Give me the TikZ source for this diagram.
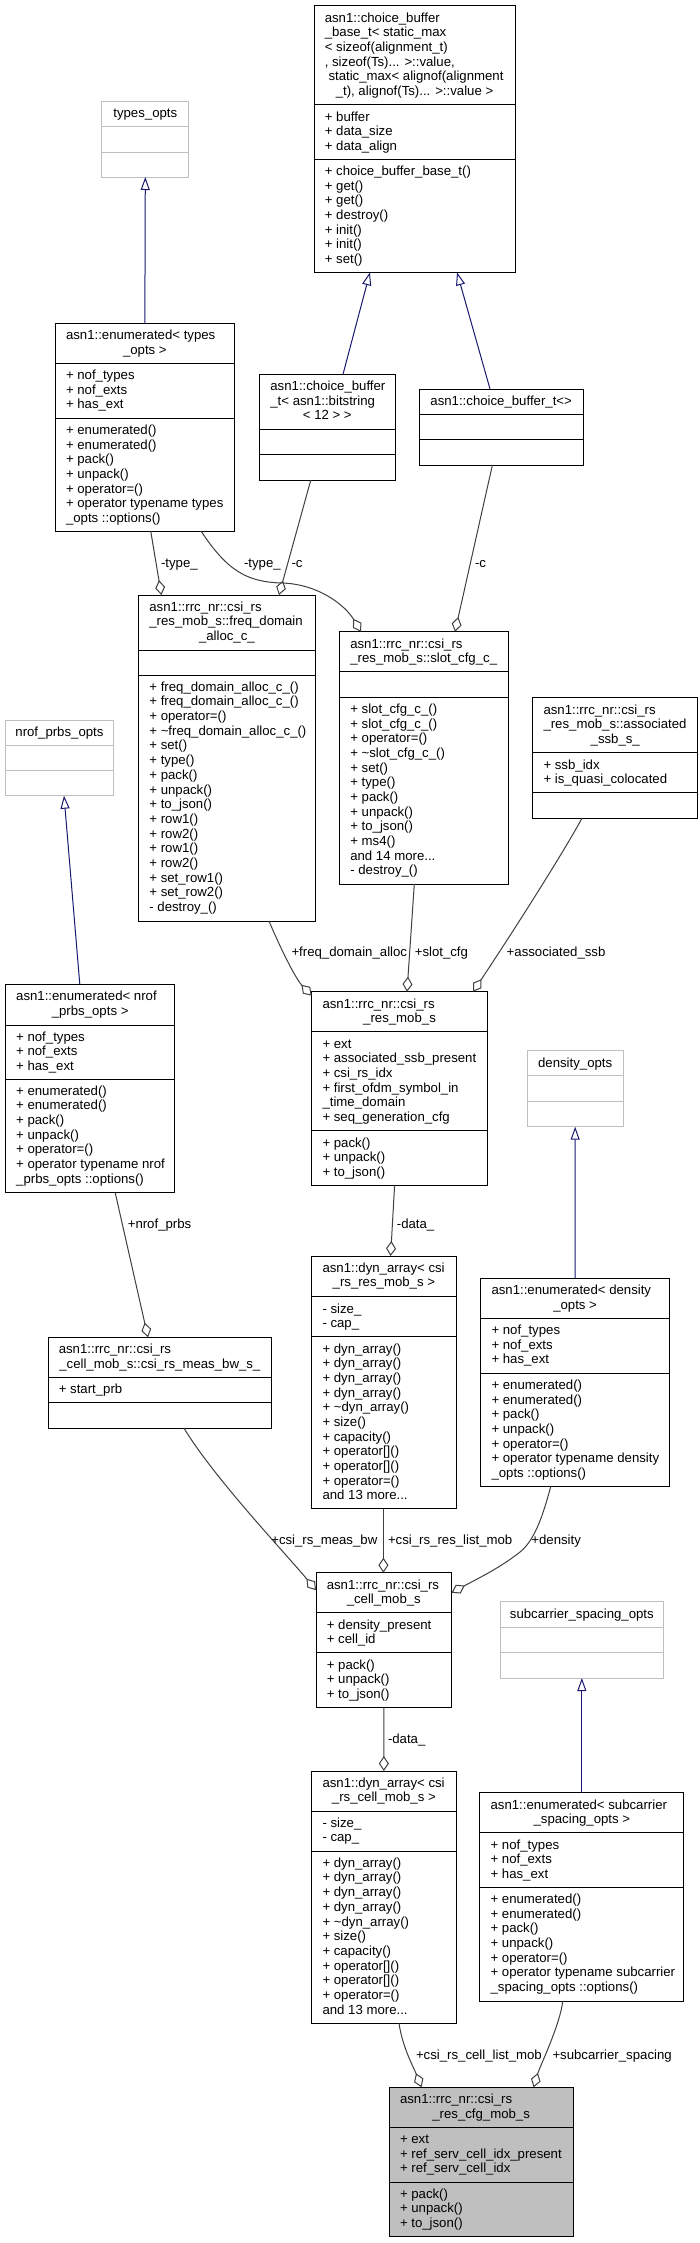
\documentclass[tikz,border=0pt]{standalone}
\usepackage{fontspec}
\setmainfont{Liberation Sans}
\usetikzlibrary{arrows.meta}
\definecolor{edgegrey}{HTML}{404040}
\definecolor{inhblue}{HTML}{191970}
\definecolor{optgrey}{HTML}{BFBFBF}
\newcommand\umlfont{\fontsize{13.2}{14.67}\selectfont}
% box: name, x1, y1, x2, y2, sep1, sep2, border colour, fill
\newcommand\cls[9]{%
  \node[draw=#8, fill=#9, line width=1pt, inner sep=0pt, outer sep=0pt,
    minimum width={(#4-#2)*1pt}, minimum height={(#5-#3)*1pt}, anchor=north west] (#1) at (#2,#3) {};
  \draw[#8, line width=1pt] (#2,#6) -- (#4,#6);
  \draw[#8, line width=1pt] (#2,#7) -- (#4,#7);}
% left-aligned section text: name, x1, section top, lines
\newcommand\sect[4]{\node[txt] (#1) at ({#2+10.8},{#3+5.8}) {\rule{0pt}{10.5pt}#4};}
% centred title line: name, x1, x2, top, line index, text
\newcommand\ctl[6]{\node[ctr] (#1) at ({(#2+#3)/2},{#4+16.3+#5*14.67}) {#6};}
\tikzset{
  txt/.style={font=\umlfont, inner sep=0pt, outer sep=0pt, anchor=north west, align=left},
  ctr/.style={font=\umlfont, inner sep=0pt, outer sep=0pt, anchor=base},
  lab/.style={font=\umlfont, inner sep=0pt, outer sep=0pt, anchor=base west},
  inh/.style={draw=inhblue, line width=1pt, -{Triangle[open, length=13pt, width=9pt]}},
  use/.style={draw=edgegrey, line width=1pt, -{Diamond[open, length=15pt, width=10pt]}}
}
\begin{document}
\begin{tikzpicture}[x=1pt, y=-1pt]
\fill[white] (0,0) rectangle (700,2243);
\useasboundingbox (0,0) rectangle (700,2243);

% ---------- boxes ----------
\cls{cbBase}{314}{5.7}{515}{272.3}{104.7}{159.3}{black}{white}
\cls{typesOpts}{101.8}{101}{188.8}{177}{126.3}{152}{optgrey}{white}
\cls{enumT}{55.2}{323.3}{234.5}{531}{363.3}{418.3}{black}{white}
\cls{cbBit}{259.6}{374.3}{395}{480}{429}{454.7}{black}{white}
\cls{cbT}{419.3}{389}{583}{465}{414.7}{439.7}{black}{white}
\cls{freq}{138.6}{595}{315.2}{921}{650}{675}{black}{white}
\cls{slot}{339.5}{631.7}{508}{884}{671.7}{697.3}{black}{white}
\cls{nrofOpts}{5.4}{720}{113.5}{795.7}{745.3}{770.3}{optgrey}{white}
\cls{assoc}{532.7}{697.7}{697.8}{818.3}{752.7}{792.7}{black}{white}
\cls{enumN}{5.4}{984.3}{174.9}{1192.7}{1025}{1079}{black}{white}
\cls{resMob}{311.7}{991.7}{487.4}{1185.3}{1031.7}{1130.7}{black}{white}
\cls{densOpts}{527}{1050.7}{623.3}{1126.7}{1075.7}{1101.3}{optgrey}{white}
\cls{dynRes}{311.7}{1256}{456}{1508.7}{1296.7}{1336.7}{black}{white}
\cls{enumD}{480.7}{1278.3}{669.5}{1486.7}{1318.3}{1373.3}{black}{white}
\cls{measBw}{48}{1337.3}{271.7}{1428}{1377.3}{1402.7}{black}{white}
\cls{cellMob}{316}{1572.7}{451.6}{1707.3}{1612.7}{1652.7}{black}{white}
\cls{subOpts}{500}{1601.7}{663.7}{1678}{1627.3}{1652.7}{optgrey}{white}
\cls{dynCell}{311.7}{1771}{456}{2023.3}{1811}{1851}{black}{white}
\cls{enumS}{479.8}{1792.7}{683.9}{2001}{1832.7}{1887.3}{black}{white}
\cls{cfgMob}{389.2}{2087.3}{573.1}{2236.7}{2127.3}{2182}{black}{optgrey}

% ---------- texts ----------
\sect{cbBaseT}{314}{5.7}{asn1::choice\_buffer\\\_base\_t< static\_max\\< sizeof(alignment\_t)\\, sizeof(Ts)... >::value,\\\hspace*{3.7pt}static\_max< alignof(alignment}
\ctl{cbBaseC}{314}{515}{5.7}{5}{\_t), alignof(Ts)... >::value >}
\sect{cbBaseA}{314}{104.7}{+ buffer\\+ data\_size\\+ data\_align}
\sect{cbBaseM}{314}{159.3}{+ choice\_buffer\_base\_t()\\+ get()\\+ get()\\+ destroy()\\+ init()\\+ init()\\+ set()}

\ctl{typesOptsT}{101.8}{188.8}{101}{0}{types\_opts}

\sect{enumTT}{55.2}{323.3}{asn1::enumerated< types}
\ctl{enumTC}{55.2}{234.5}{323.3}{1}{\_opts >}
\sect{enumTA}{55.2}{363.3}{+ nof\_types\\+ nof\_exts\\+ has\_ext}
\sect{enumTM}{55.2}{418.3}{+ enumerated()\\+ enumerated()\\+ pack()\\+ unpack()\\+ operator=()\\+ operator typename types\\\_opts ::options()}

\sect{cbBitT}{259.6}{374.3}{asn1::choice\_buffer\\\_t< asn1::bitstring}
\ctl{cbBitC}{259.6}{395}{374.3}{2}{< 12 > >}

\ctl{cbTT}{419.3}{583}{389}{0}{asn1::choice\_buffer\_t<>}

\sect{freqT}{138.6}{595}{asn1::rrc\_nr::csi\_rs\\\_res\_mob\_s::freq\_domain}
\ctl{freqC}{138.6}{315.2}{595}{2}{\_alloc\_c\_}
\sect{freqM}{138.6}{675}{+ freq\_domain\_alloc\_c\_()\\+ freq\_domain\_alloc\_c\_()\\+ operator=()\\+ \textasciitilde freq\_domain\_alloc\_c\_()\\+ set()\\+ type()\\+ pack()\\+ unpack()\\+ to\_json()\\+ row1()\\+ row2()\\+ row1()\\+ row2()\\+ set\_row1()\\+ set\_row2()\\- destroy\_()}

\sect{slotT}{339.5}{631.7}{asn1::rrc\_nr::csi\_rs}
\ctl{slotC}{339.5}{508}{631.7}{1}{\_res\_mob\_s::slot\_cfg\_c\_}
\sect{slotM}{339.5}{697.3}{+ slot\_cfg\_c\_()\\+ slot\_cfg\_c\_()\\+ operator=()\\+ \textasciitilde slot\_cfg\_c\_()\\+ set()\\+ type()\\+ pack()\\+ unpack()\\+ to\_json()\\+ ms4()\\and 14 more...\\- destroy\_()}

\ctl{nrofOptsT}{5.4}{113.5}{720}{0}{nrof\_prbs\_opts}

\sect{assocT}{532.7}{697.7}{asn1::rrc\_nr::csi\_rs\\\_res\_mob\_s::associated}
\ctl{assocC}{532.7}{697.8}{697.7}{2}{\_ssb\_s\_}
\sect{assocA}{532.7}{752.7}{+ ssb\_idx\\+ is\_quasi\_colocated}

\sect{enumNT}{5.4}{984.3}{asn1::enumerated< nrof}
\ctl{enumNC}{5.4}{174.9}{984.3}{1}{\_prbs\_opts >}
\sect{enumNA}{5.4}{1025}{+ nof\_types\\+ nof\_exts\\+ has\_ext}
\sect{enumNM}{5.4}{1079}{+ enumerated()\\+ enumerated()\\+ pack()\\+ unpack()\\+ operator=()\\+ operator typename nrof\\\_prbs\_opts ::options()}

\sect{resMobT}{311.7}{991.7}{asn1::rrc\_nr::csi\_rs}
\ctl{resMobC}{311.7}{487.4}{991.7}{1}{\_res\_mob\_s}
\sect{resMobA}{311.7}{1031.7}{+ ext\\+ associated\_ssb\_present\\+ csi\_rs\_idx\\+ first\_ofdm\_symbol\_in\\\_time\_domain\\+ seq\_generation\_cfg}
\sect{resMobM}{311.7}{1130.7}{+ pack()\\+ unpack()\\+ to\_json()}

\ctl{densOptsT}{527}{623.3}{1050.7}{0}{density\_opts}

\sect{dynResT}{311.7}{1256}{asn1::dyn\_array< csi}
\ctl{dynResC}{311.7}{456}{1256}{1}{\_rs\_res\_mob\_s >}
\sect{dynResA}{311.7}{1296.7}{- size\_\\- cap\_}
\sect{dynResM}{311.7}{1336.7}{+ dyn\_array()\\+ dyn\_array()\\+ dyn\_array()\\+ dyn\_array()\\+ \textasciitilde dyn\_array()\\+ size()\\+ capacity()\\+ operator[]()\\+ operator[]()\\+ operator=()\\and 13 more...}

\sect{enumDT}{480.7}{1278.3}{asn1::enumerated< density}
\ctl{enumDC}{480.7}{669.5}{1278.3}{1}{\_opts >}
\sect{enumDA}{480.7}{1318.3}{+ nof\_types\\+ nof\_exts\\+ has\_ext}
\sect{enumDM}{480.7}{1373.3}{+ enumerated()\\+ enumerated()\\+ pack()\\+ unpack()\\+ operator=()\\+ operator typename density\\\_opts ::options()}

\sect{measBwT}{48}{1337.3}{asn1::rrc\_nr::csi\_rs}
\ctl{measBwC}{48}{271.7}{1337.3}{1}{\_cell\_mob\_s::csi\_rs\_meas\_bw\_s\_}
\sect{measBwA}{48}{1377.3}{+ start\_prb}

\sect{cellMobT}{316}{1572.7}{asn1::rrc\_nr::csi\_rs}
\ctl{cellMobC}{316}{451.6}{1572.7}{1}{\_cell\_mob\_s}
\sect{cellMobA}{316}{1612.7}{+ density\_present\\+ cell\_id}
\sect{cellMobM}{316}{1652.7}{+ pack()\\+ unpack()\\+ to\_json()}

\ctl{subOptsT}{500}{663.7}{1601.7}{0}{subcarrier\_spacing\_opts}

\sect{dynCellT}{311.7}{1771}{asn1::dyn\_array< csi}
\ctl{dynCellC}{311.7}{456}{1771}{1}{\_rs\_cell\_mob\_s >}
\sect{dynCellA}{311.7}{1811}{- size\_\\- cap\_}
\sect{dynCellM}{311.7}{1851}{+ dyn\_array()\\+ dyn\_array()\\+ dyn\_array()\\+ dyn\_array()\\+ \textasciitilde dyn\_array()\\+ size()\\+ capacity()\\+ operator[]()\\+ operator[]()\\+ operator=()\\and 13 more...}

\sect{enumST}{479.8}{1792.7}{asn1::enumerated< subcarrier}
\ctl{enumSC}{479.8}{683.9}{1792.7}{1}{\_spacing\_opts >}
\sect{enumSA}{479.8}{1832.7}{+ nof\_types\\+ nof\_exts\\+ has\_ext}
\sect{enumSM}{479.8}{1887.3}{+ enumerated()\\+ enumerated()\\+ pack()\\+ unpack()\\+ operator=()\\+ operator typename subcarrier\\\_spacing\_opts ::options()}

\sect{cfgMobT}{389.2}{2087.3}{asn1::rrc\_nr::csi\_rs}
\ctl{cfgMobC}{389.2}{573.1}{2087.3}{1}{\_res\_cfg\_mob\_s}
\sect{cfgMobA}{389.2}{2127.3}{+ ext\\+ ref\_serv\_cell\_idx\_present\\+ ref\_serv\_cell\_idx}
\sect{cfgMobM}{389.2}{2182}{+ pack()\\+ unpack()\\+ to\_json()}

% ---------- inheritance ----------
\draw[inh] (enumT.north) -- (typesOpts.south);
\draw[inh] (cbBit.north -| 343,0) -- (cbBase.south -| 370,0);
\draw[inh] (cbT.north -| 490,0) -- (cbBase.south -| 457,0);
\draw[inh] (enumN.north -| 79.8,0) -- (nrofOpts.south -| 64,0);
\draw[inh] (enumD.north) -- (densOpts.south);
\draw[inh] (enumS.north) -- (subOpts.south);

% ---------- usage ----------
\draw[use] (enumT.south -| 150.7,0) -- (freq.north -| 161.4,0);
\draw[use] (enumT.south -| 201,0) .. controls (228,572) and (248,582) .. (282,583)
  .. controls (318,584) and (345,605) .. (slot.north -| 361,0);
\draw[use] (cbBit.south -| 310.8,0) -- (freq.north -| 279,0);
\draw[use] (cbT.south -| 492.4,0) -- (slot.north -| 455,0);
\draw[use] (freq.south -| 269,0) .. controls (279,945) and (295,978) .. ([shift={(0,4)}]resMob.north west);
\draw[use] (slot.south -| 414.3,0) -- (resMob.north -| 407,0);
\draw[use] (assoc.south -| 582,0) .. controls (554.5,868) and (493,962) .. (resMob.north -| 473,0);
\draw[use] (resMob.south -| 394.6,0) -- (dynRes.north -| 390.6,0);
\draw[use] (enumN.south -| 115.2,0) -- (measBw.north -| 148,0);
\draw[use] (measBw.south -| 183.9,0) .. controls (214,1478) and (287,1555) .. ([shift={(0,17.5)}]cellMob.north west);
\draw[use] (dynRes.south -| 383.4,0) -- (cellMob.north -| 383.4,0);
\draw[use] (enumD.south -| 550.7,0) .. controls (543,1515) and (535,1540) .. (520,1552)
  .. controls (500,1568) and (475,1580) .. ([shift={(0,20)}]cellMob.north east);
\draw[use] (cellMob.south) -- (dynCell.north);
\draw[use] (dynCell.south -| 399,0) .. controls (402.7,2048) and (413.5,2067) .. (cfgMob.north -| 421.5,0);
\draw[use] (enumS.south -| 562.8,0) .. controls (560,2025) and (540,2066) .. (cfgMob.north -| 533.6,0);

% ---------- labels ----------
\node[lab] (l1) at (161,567.8) {-type\_};
\node[lab] (l2) at (244,567.8) {-type\_};
\node[lab] (l3) at (291.5,567.8) {-c};
\node[lab] (l4) at (475,567.8) {-c};
\node[lab] (l5) at (291.5,956.2) {+freq\_domain\_alloc};
\node[lab] (l6) at (414.8,956.2) {+slot\_cfg};
\node[lab] (l7) at (506.7,956.2) {+associated\_ssb};
\node[lab] (l8) at (127.8,1228.5) {+nrof\_prbs};
\node[lab] (l9) at (396.9,1228.5) {-data\_};
\node[lab] (l10) at (271.3,1544.5) {+csi\_rs\_meas\_bw};
\node[lab] (l11) at (388,1544.5) {+csi\_rs\_res\_list\_mob};
\node[lab] (l12) at (531.4,1544.5) {+density};
\node[lab] (l13) at (388,1743.5) {-data\_};
\node[lab] (l14) at (416,2059.5) {+csi\_rs\_cell\_list\_mob};
\node[lab] (l15) at (552.5,2059.5) {+subcarrier\_spacing};
\end{tikzpicture}
\end{document}
